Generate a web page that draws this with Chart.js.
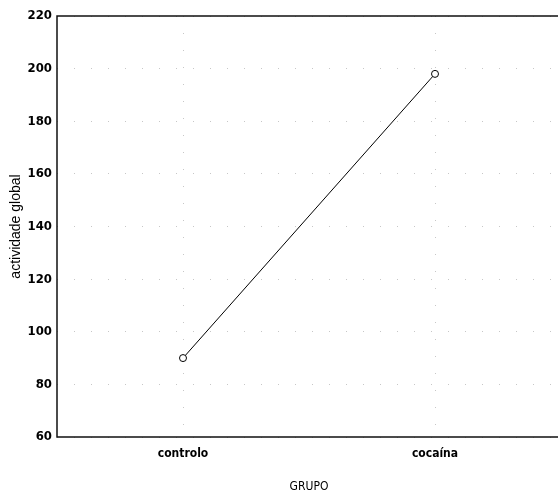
<!DOCTYPE html>
<html>
<head>
<meta charset="utf-8">
<script src="https://cdn.jsdelivr.net/npm/chart.js@4/dist/chart.umd.min.js"></script>
<style>
html, body { margin: 0; padding: 0; background: #fff; overflow: hidden; }
#wrap { width: 566px; height: 494px; }
</style>
</head>
<body>
<div id="wrap"><canvas id="chart" width="566" height="494"></canvas></div>
<script>
// data
var groups = ['controlo', 'cocaína'];
var activity = [90, 198];
var yMin = 60, yMax = 220, yStep = 20;

var narrow = "'DejaVu Sans Condensed', 'Liberation Sans Narrow', 'Arial Narrow', sans-serif";

// frame: top line plus solid left/bottom axis lines (grid is dotted)
var frame = {
	id: 'frame',
	afterDraw: function (chart) {
		var a = chart.chartArea, ctx = chart.ctx;
		ctx.save();
		ctx.strokeStyle = '#111';
		ctx.lineWidth = 1.5;
		ctx.beginPath();
		ctx.moveTo(a.right, a.top);
		ctx.lineTo(a.left, a.top);
		ctx.lineTo(a.left, a.bottom);
		ctx.lineTo(a.right, a.bottom);
		ctx.stroke();
		ctx.restore();
	}
};

var c = new Chart(document.getElementById('chart'), {
	type: 'line',
	data: {
		labels: groups,
		datasets: [{
			label: 'actividade global',
			data: activity,
			borderColor: '#000',
			borderWidth: 1,
			pointStyle: 'circle',
			pointRadius: 3.5,
			pointBorderWidth: 1,
			pointBorderColor: '#000',
			pointBackgroundColor: '#fff',
			tension: 0
		}]
	},
	options: {
		responsive: false,
		animation: false,
		layout: { padding: { top: 16, left: 0, right: 0, bottom: 0 } },
		plugins: { legend: { display: false }, tooltip: { enabled: false } },
		scales: {
			x: {
				type: 'category',
				offset: true,
				grid: {
					offset: false,
					color: 'rgba(0,0,0,0.22)',
					drawTicks: false
				},
				border: { display: false, dash: [1, 16] },
				ticks: {
					color: '#000',
					padding: 10,
					font: { family: narrow, size: 12, weight: 'bold' }
				},
				title: {
					display: true,
					text: 'GRUPO',
					color: '#000',
					padding: { top: 14, bottom: 0 },
					font: { family: narrow, size: 12 }
				},
				afterFit: function (s) { s.height = 57; }
			},
			y: {
				min: yMin,
				max: yMax,
				grid: {
					color: 'rgba(0,0,0,0.22)',
					drawTicks: false
				},
				border: { display: false, dash: [1, 16] },
				ticks: {
					stepSize: yStep,
					color: '#000',
					padding: 5,
					font: { family: narrow, size: 13, weight: 'bold' }
				},
				title: {
					display: true,
					text: 'actividade global',
					color: '#000',
					padding: { top: 8, bottom: 4 },
					font: { family: "'Liberation Sans', Arial, sans-serif", size: 14 }
				},
				afterFit: function (s) { s.width = 57; }
			}
		}
	},
	plugins: [frame]
});
</script>
</body>
</html>
